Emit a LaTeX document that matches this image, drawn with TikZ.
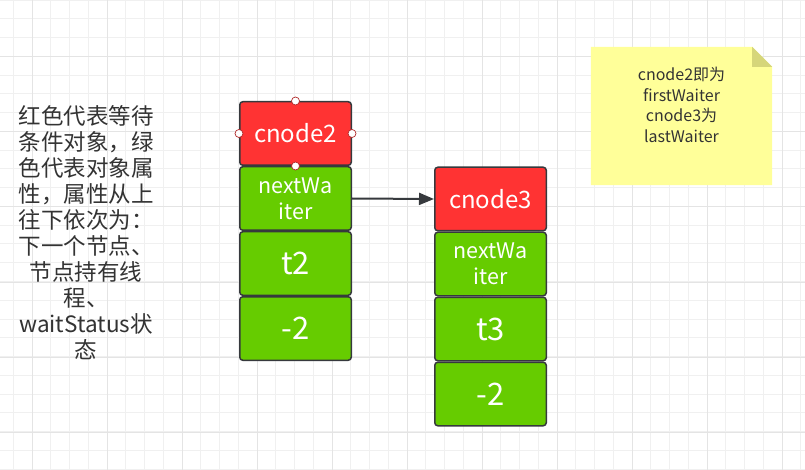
\documentclass[tikz,border=0pt]{standalone}
\usepackage{fontspec}
\setmainfont{Noto Sans CJK SC}
\usetikzlibrary{positioning,calc,backgrounds,arrows.meta}
\definecolor{waitred}{HTML}{FF3333}
\definecolor{fieldgreen}{HTML}{66CC00}
\definecolor{edge}{HTML}{36393D}
\definecolor{handlered}{HTML}{B02828}
\definecolor{notefill}{HTML}{FFFF99}
\definecolor{notefold}{HTML}{D6D67A}
\definecolor{gridminor}{HTML}{F0F0F0}
\definecolor{gridmajor}{HTML}{E4E4E4}
\definecolor{inktext}{HTML}{333333}
\begin{document}
\begin{tikzpicture}[x=1pt, y=-1pt,
  cell/.style={draw=edge, line width=1.5pt, rounded corners=3pt, minimum width=111.5pt,
    minimum height=63.5pt, inner sep=0pt, align=center, text=white},
  waiter/.style={cell, fill=waitred, font=\fontsize{24}{28}\selectfont},
  field/.style={cell, fill=fieldgreen, font=\fontsize{21.5}{26}\selectfont},
  value/.style={cell, fill=fieldgreen, font=\fontsize{31}{34}\selectfont},
  handle/.style={circle, draw=handlered, fill=white, inner sep=0pt, minimum size=8pt, line width=0.7pt},
  link/.style={-{Triangle[length=15pt, width=12pt]}, draw=edge, line width=2pt},
]
\useasboundingbox (0,0) rectangle (805,470);

% note
\node[minimum width=181pt, minimum height=138pt] (note) at (681.5,116) {};
\node[align=center, text=inktext, font=\fontsize{16}{20.5}\selectfont] (noteText)
  at ($(note.center)+(0,-11)$) {cnode2即为\\firstWaiter\\cnode3为\\lastWaiter};

\begin{scope}[on background layer]
  \fill[white] (0,0) rectangle (805,470);
  % grid
  \foreach \gx in {0,...,42} \draw[gridminor, line width=1pt] ({13.25+18.75*\gx},0) -- ++(0,470);
  \foreach \gy in {0,...,25} \draw[gridminor, line width=1pt] (0,{0.25+18.75*\gy}) -- ++(805,0);
  \foreach \gx in {0,...,10} \draw[gridmajor, line width=1pt] ({32+75*\gx},0) -- ++(0,470);
  \foreach \gy in {0,...,6} \draw[gridmajor, line width=1pt] (0,{57+75*\gy}) -- ++(805,0);
  % note paper
  \fill[notefill] (note.south west) |- ($(note.north east)+(-20,0)$) -- ($(note.north east)+(0,20)$)
    |- cycle;
  \fill[notefold] ($(note.north east)+(-20,0)$) -- ($(note.north east)+(-20,20)$)
    -- ($(note.north east)+(0,20)$) -- cycle;
\end{scope}

% legend
\node[align=center, text=inktext, font=\fontsize{22.5}{26}\selectfont] (legend) at (86,233)
  {红色代表等待\\条件对象，绿\\色代表对象属\\性，属性从上\\往下依次为：\\下一个节点、\\节点持有线\\程、\\waitStatus状\\态};

% first waiter
\node[waiter] (cnodeTwo) at (295.5,133.5) {cnode2};
\node[field, below=0pt of cnodeTwo] (nextTwo) {nextWa\\iter};
\node[value, below=0pt of nextTwo] (threadTwo) {t2};
\node[value, below=0pt of threadTwo] (statusTwo) {-2};

% last waiter
\node[waiter] (cnodeThree) at (490.5,199) {cnode3};
\node[field, below=0pt of cnodeThree] (nextThree) {nextWa\\iter};
\node[value, below=0pt of nextThree] (threadThree) {t3};
\node[value, below=0pt of threadThree] (statusThree) {-2};

\draw[link] (nextTwo.east) -- (cnodeThree.west);

% selection handles
\node[handle] (hTop) at (cnodeTwo.north) {};
\node[handle] (hLeft) at (cnodeTwo.west) {};
\node[handle] (hRight) at (cnodeTwo.east) {};
\node[handle] (hBottom) at (cnodeTwo.south) {};
\end{tikzpicture}
\end{document}
